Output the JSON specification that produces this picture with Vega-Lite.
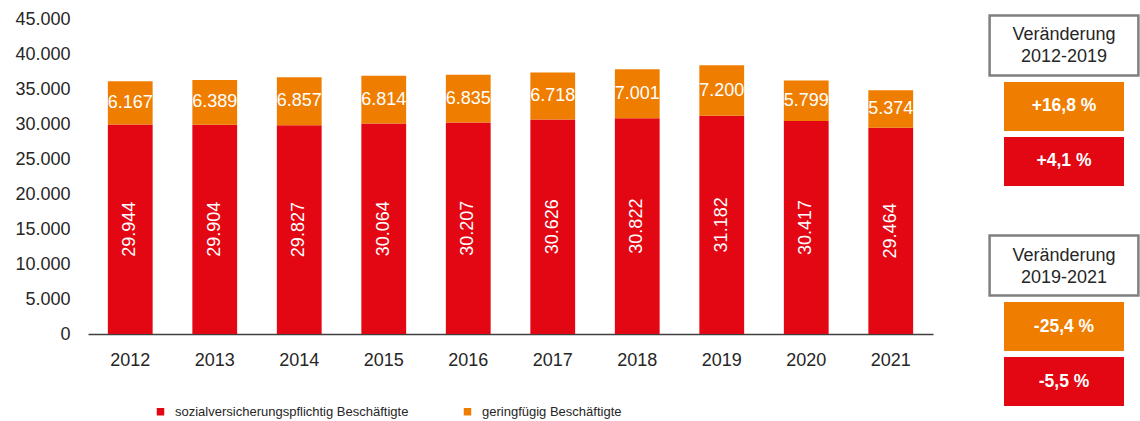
{
  "$schema": "https://vega.github.io/schema/vega-lite/v6.json",
  "padding": {"left": 14, "top": 10, "right": 0, "bottom": 0},
  "bounds": "flush",
  "spacing": 56,
  "datasets": {
    "beschaeftigte": [
      {"jahr": "2012", "typ": "sozialversicherungspflichtig Beschäftigte", "wert": 29944},
      {"jahr": "2012", "typ": "geringfügig Beschäftigte", "wert": 6167},
      {"jahr": "2013", "typ": "sozialversicherungspflichtig Beschäftigte", "wert": 29904},
      {"jahr": "2013", "typ": "geringfügig Beschäftigte", "wert": 6389},
      {"jahr": "2014", "typ": "sozialversicherungspflichtig Beschäftigte", "wert": 29827},
      {"jahr": "2014", "typ": "geringfügig Beschäftigte", "wert": 6857},
      {"jahr": "2015", "typ": "sozialversicherungspflichtig Beschäftigte", "wert": 30064},
      {"jahr": "2015", "typ": "geringfügig Beschäftigte", "wert": 6814},
      {"jahr": "2016", "typ": "sozialversicherungspflichtig Beschäftigte", "wert": 30207},
      {"jahr": "2016", "typ": "geringfügig Beschäftigte", "wert": 6835},
      {"jahr": "2017", "typ": "sozialversicherungspflichtig Beschäftigte", "wert": 30626},
      {"jahr": "2017", "typ": "geringfügig Beschäftigte", "wert": 6718},
      {"jahr": "2018", "typ": "sozialversicherungspflichtig Beschäftigte", "wert": 30822},
      {"jahr": "2018", "typ": "geringfügig Beschäftigte", "wert": 7001},
      {"jahr": "2019", "typ": "sozialversicherungspflichtig Beschäftigte", "wert": 31182},
      {"jahr": "2019", "typ": "geringfügig Beschäftigte", "wert": 7200},
      {"jahr": "2020", "typ": "sozialversicherungspflichtig Beschäftigte", "wert": 30417},
      {"jahr": "2020", "typ": "geringfügig Beschäftigte", "wert": 5799},
      {"jahr": "2021", "typ": "sozialversicherungspflichtig Beschäftigte", "wert": 29464},
      {"jahr": "2021", "typ": "geringfügig Beschäftigte", "wert": 5374}
    ],
    "veraenderung": [
      {"feld": "A0", "art": "kopf", "label": "Veränderung\n2012-2019"},
      {"feld": "A1", "art": "wert", "typ": "geringfügig Beschäftigte", "label": "+16,8 %"},
      {"feld": "A2", "art": "wert", "typ": "sozialversicherungspflichtig Beschäftigte", "label": "+4,1 %"},
      {"feld": "B0", "art": "kopf", "label": "Veränderung\n2019-2021"},
      {"feld": "B1", "art": "wert", "typ": "geringfügig Beschäftigte", "label": "-25,4 %"},
      {"feld": "B2", "art": "wert", "typ": "sozialversicherungspflichtig Beschäftigte", "label": "-5,5 %"}
    ]
  },
  "config": {
    "locale": {"number": {"decimal": ",", "thousands": ".", "grouping": [3], "currency": ["", " €"]}},
    "font": "Liberation Sans",
    "view": {"stroke": null},
    "axis": {"labelFont": "Liberation Sans", "labelColor": "#262626", "labelOverlap": false},
    "axisY": {"labelOverlap": false, "labelBound": false}
  },
  "hconcat": [
    {
      "width": 845,
      "height": 315,
      "data": {"name": "beschaeftigte"},
      "transform": [
        {"stack": "wert", "groupby": ["jahr"], "sort": [{"field": "typ", "order": "descending"}], "as": ["w0", "w1"]},
        {"fold": ["w0", "w1"], "as": ["grenze", "pos"]},
        {"joinaggregate": [{"op": "mean", "field": "pos", "as": "wmitte"}], "groupby": ["jahr", "typ"]},
        {"pivot": "grenze", "value": "pos", "groupby": ["jahr", "typ", "wert", "wmitte"]}
      ],
      "encoding": {
        "x": {
          "field": "jahr",
          "type": "ordinal",
          "scale": {"paddingInner": 0.47, "paddingOuter": 0.235},
          "axis": {"title": null, "labelAngle": 0, "ticks": false, "labelFontSize": 18, "labelPadding": 17, "domainColor": "#404040", "domainWidth": 1.5}
        },
        "y": {
          "field": "w0",
          "type": "quantitative",
          "scale": {"domain": [0, 45000]},
          "axis": {"title": null, "values": [0, 5000, 10000, 15000, 20000, 25000, 30000, 35000, 40000, 45000], "format": ",.0f", "grid": false, "domain": false, "ticks": false, "labelFontSize": 18, "labelPadding": 18, "labelOverlap": false}
        }
      },
      "layer": [
        {
          "mark": {"type": "bar"},
          "encoding": {
            "y2": {"field": "w1"},
            "color": {
              "field": "typ",
              "type": "nominal",
              "scale": {"domain": ["sozialversicherungspflichtig Beschäftigte", "geringfügig Beschäftigte"], "range": ["#E30613", "#EF7D00"]},
              "legend": {"orient": "none", "legendX": 66, "legendY": 386, "direction": "horizontal", "title": null, "symbolType": "square", "symbolSize": 56, "symbolStrokeWidth": 0, "labelFontSize": 13, "labelFont": "Liberation Sans", "labelColor": "#262626", "labelLimit": 0, "columnPadding": 52, "labelOffset": 8, "padding": 0}
            }
          }
        },
        {
          "transform": [{"filter": "datum.typ === 'geringfügig Beschäftigte'"}],
          "mark": {"type": "text", "color": "white", "fontSize": 18},
          "encoding": {
            "y": {"field": "wmitte", "type": "quantitative"},
            "text": {"field": "wert", "type": "quantitative", "format": ",.0f"}
          }
        },
        {
          "transform": [{"filter": "datum.typ === 'sozialversicherungspflichtig Beschäftigte'"}],
          "mark": {"type": "text", "color": "white", "fontSize": 18, "angle": 270},
          "encoding": {
            "y": {"field": "wmitte", "type": "quantitative"},
            "text": {"field": "wert", "type": "quantitative", "format": ",.0f"}
          }
        }
      ]
    },
    {
      "width": 150,
      "height": 395,
      "data": {"name": "veraenderung"},
      "encoding": {
        "x": {"datum": "Veränderung", "type": "nominal", "scale": {"paddingInner": 0, "paddingOuter": 0.125}, "axis": null},
        "y": {"field": "feld", "type": "nominal", "scale": {"domain": ["A0", "A1", "A2", "L", "B0", "B1", "B2"], "paddingInner": 0.109, "paddingOuter": 0.145}, "axis": null}
      },
      "layer": [
        {
          "transform": [{"filter": "datum.art === 'kopf'"}],
          "mark": {"type": "rect", "fill": "white", "stroke": "#7F7F7F", "strokeWidth": 2.5, "width": {"band": 1.24}, "height": {"band": 1.22}, "yOffset": -6}
        },
        {
          "transform": [{"filter": "datum.art === 'kopf'"}],
          "mark": {"type": "text", "fontSize": 18, "color": "#262626", "lineBreak": "\n", "lineHeight": 22, "yOffset": -16},
          "encoding": {"text": {"field": "label"}}
        },
        {
          "transform": [{"filter": "datum.art === 'wert'"}],
          "mark": {"type": "rect"},
          "encoding": {"color": {"field": "typ", "type": "nominal"}}
        },
        {
          "transform": [{"filter": "datum.art === 'wert'"}],
          "mark": {"type": "text", "fontSize": 17.5, "fontWeight": "bold", "color": "white"},
          "encoding": {"text": {"field": "label"}}
        }
      ]
    }
  ]
}
